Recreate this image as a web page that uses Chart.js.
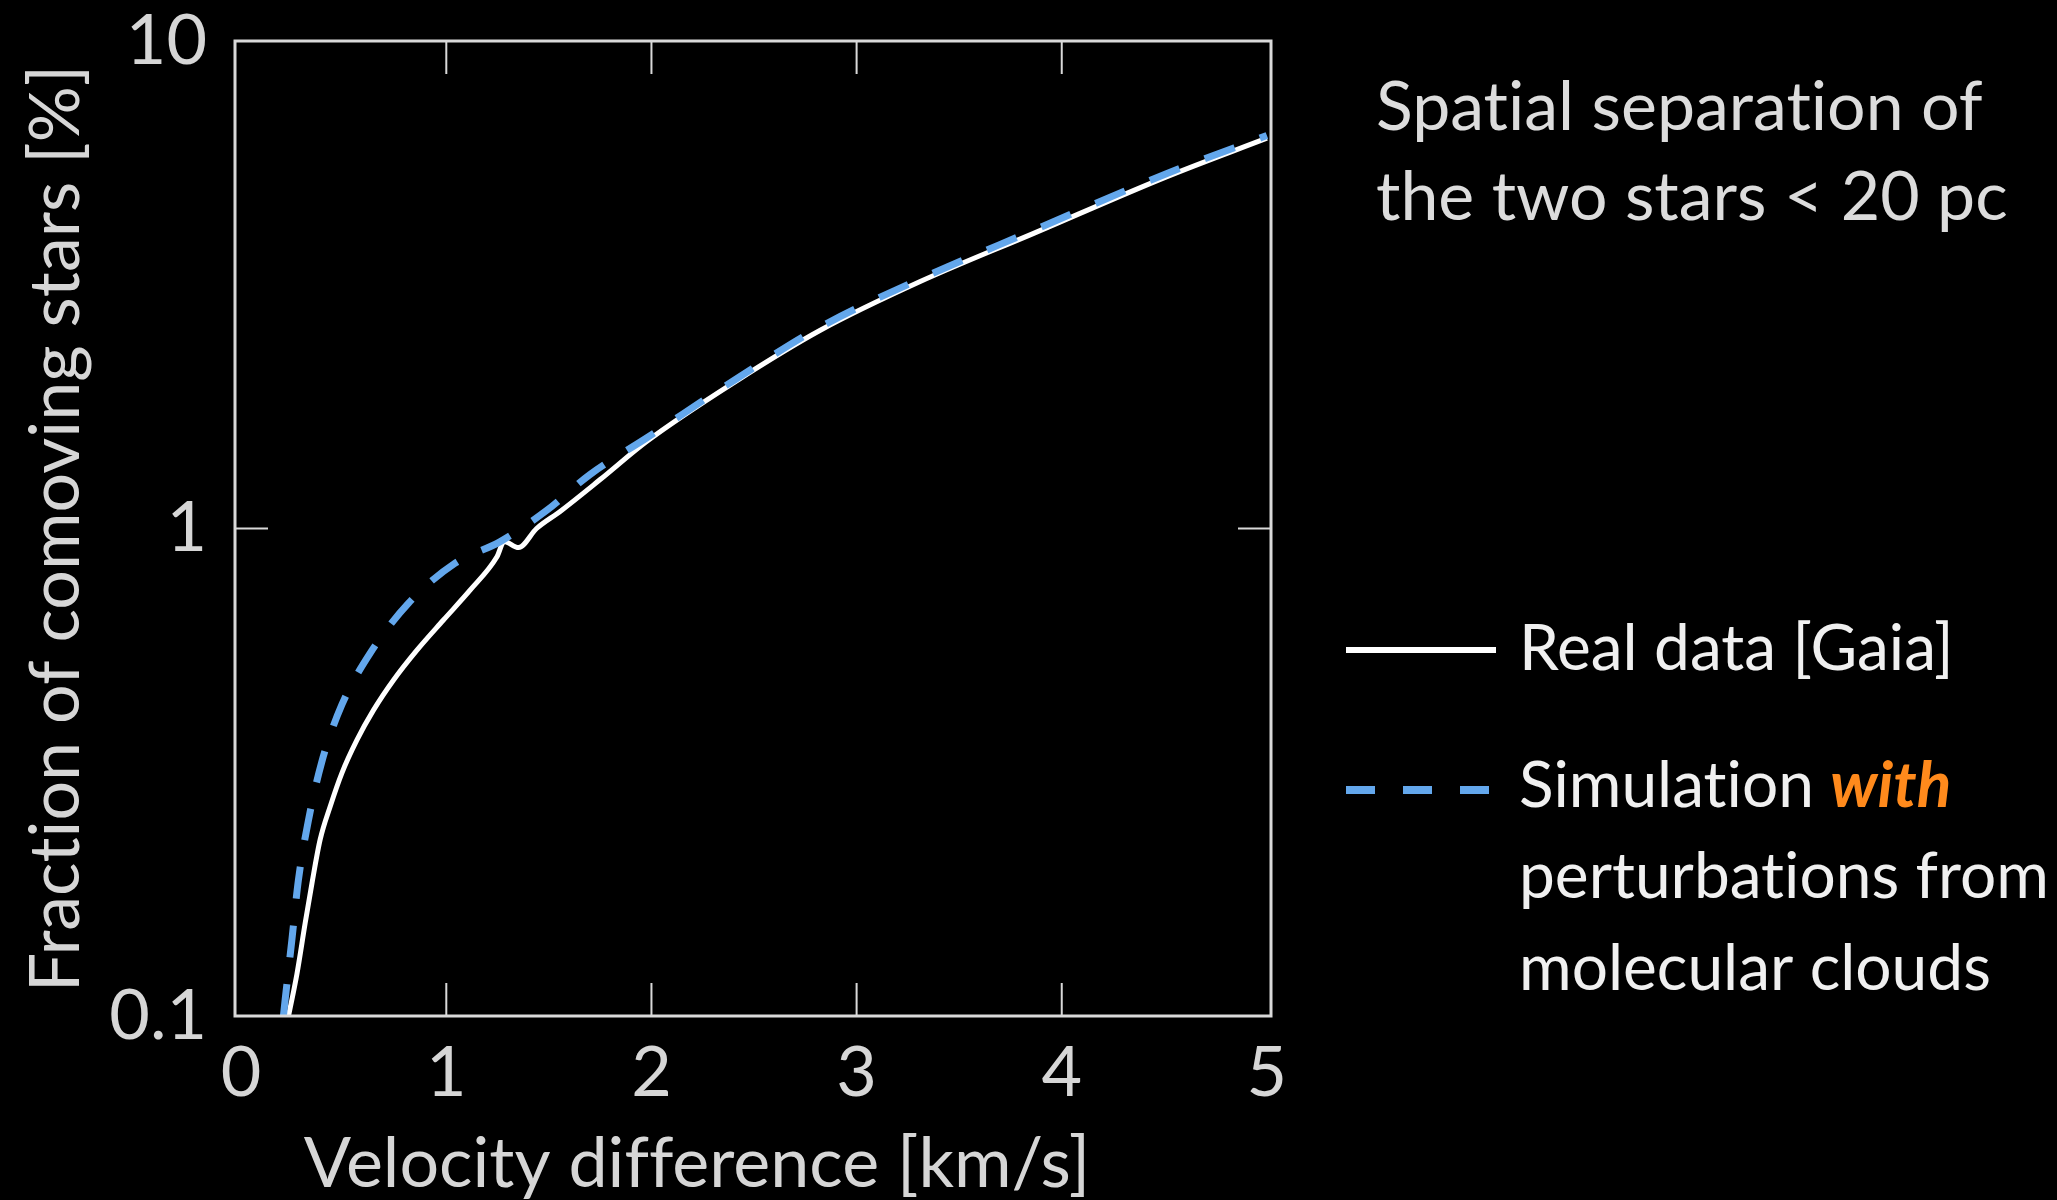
<!DOCTYPE html>
<html>
<head>
<meta charset="utf-8">
<script src="https://cdn.jsdelivr.net/npm/chart.js@4.4.0/dist/chart.umd.min.js"></script>
<style>
  html, body { margin: 0; padding: 0; background: #000; }
  #wrap { width: 2057px; height: 1200px; position: relative; }
</style>
</head>
<body>
<div id="wrap"><canvas id="line-chart"></canvas></div>
<script>
// values
var velocityReal = [0.231, 0.272, 0.312, 0.345, 0.385, 0.434, 0.491, 0.564, 0.645, 0.743, 0.857, 0.986, 1.117, 1.247, 1.282, 1.352, 1.44, 1.555, 1.75, 1.978, 2.40, 2.823, 3.31, 3.863, 4.513, 5.0];
var fractionReal = [0.10, 0.122, 0.155, 0.187, 0.230, 0.269, 0.315, 0.368, 0.424, 0.489, 0.563, 0.649, 0.748, 0.875, 0.94, 0.914, 1.0, 1.084, 1.26, 1.51, 1.99, 2.55, 3.21, 4.03, 5.27, 6.32];

var velocitySim = [0.206, 0.2145, 0.247, 0.279, 0.328, 0.393, 0.491, 0.629, 0.816, 1.043, 1.263, 1.49, 1.70, 1.978, 2.40, 2.823, 3.31, 3.863, 4.513, 5.0];
var fractionSim = [0.10, 0.108, 0.143, 0.190, 0.252, 0.332, 0.435, 0.555, 0.703, 0.849, 0.94, 1.09, 1.29, 1.535, 2.01, 2.59, 3.25, 4.09, 5.35, 6.4];

var xTickValues = [0, 1, 2, 3, 4, 5];
var yTickValues = [0.1, 1, 10];
var xTitle = "Velocity difference [km/s]";
var yTitle = "Fraction of comoving stars [%]";
var noteLines = ["Spatial separation of", "the two stars < 20 pc"];
var realLabel = "Real data [Gaia]";
var simLabelLines = [["Simulation ", "with"], ["perturbations from"], ["molecular clouds"]];

var textGrey = "#d6d6d6";
var simBlue = "#63a7ec";

function toPoints(xs, ys) {
    return xs.map(function (v, i) { return { x: v, y: ys[i] }; });
}

// no "ti" ligatures, the original text has none
var plainText = {
    id: "plainText",
    beforeDraw: function (chart) {
        chart.ctx.textRendering = "optimizeSpeed";
    }
};

// frame around the plot with inward ticks, like the original axes
var frameAndTicks = {
    id: "frameAndTicks",
    afterDatasetsDraw: function (chart) {
        var ctx = chart.ctx, a = chart.chartArea, x = chart.scales.x, y = chart.scales.y;
        ctx.save();
        ctx.strokeStyle = "#d9d9d9";
        ctx.lineWidth = 3;
        ctx.strokeRect(a.left, a.top, a.right - a.left, a.bottom - a.top);
        ctx.lineWidth = 2;
        ctx.beginPath();
        x.ticks.forEach(function (t, i) {
            if (i === 0 || i === x.ticks.length - 1) return;
            var px = x.getPixelForValue(t.value);
            ctx.moveTo(px, a.bottom); ctx.lineTo(px, a.bottom - 33);
            ctx.moveTo(px, a.top); ctx.lineTo(px, a.top + 33);
        });
        y.ticks.forEach(function (t, i) {
            if (i === 0 || i === y.ticks.length - 1) return;
            var py = y.getPixelForValue(t.value);
            ctx.moveTo(a.left, py); ctx.lineTo(a.left + 33, py);
            ctx.moveTo(a.right, py); ctx.lineTo(a.right - 33, py);
        });
        ctx.stroke();
        ctx.restore();
    }
};

// x title, the note and the legend on the right
var sideTexts = {
    id: "sideTexts",
    afterDraw: function (chart) {
        var ctx = chart.ctx;
        ctx.save();
        ctx.textBaseline = "alphabetic";

        ctx.fillStyle = textGrey;
        ctx.font = "70px Lato";
        ctx.textAlign = "center";
        ctx.fillText(xTitle, 697, 1187);

        ctx.textAlign = "left";
        ctx.font = "68px Lato";
        ctx.fillStyle = "#dcdcdc";
        ctx.fillText(noteLines[0], 1376, 130);
        ctx.fillText(noteLines[1], 1376, 220);

        // legend swatches
        ctx.strokeStyle = "#ffffff";
        ctx.lineWidth = 6;
        ctx.beginPath(); ctx.moveTo(1346, 650); ctx.lineTo(1496, 650); ctx.stroke();
        ctx.strokeStyle = simBlue;
        ctx.lineWidth = 8;
        ctx.setLineDash([29, 28]);
        ctx.beginPath(); ctx.moveTo(1346, 790); ctx.lineTo(1491, 790); ctx.stroke();
        ctx.setLineDash([]);

        ctx.font = "64px Lato";
        ctx.fillStyle = "#f0f0f0";
        ctx.fillText(realLabel, 1519, 670);
        var baselines = [807, 898, 990];
        simLabelLines.forEach(function (parts, i) {
            var xPos = 1519;
            ctx.font = "64px Lato";
            ctx.fillStyle = "#f0f0f0";
            ctx.fillText(parts[0], xPos, baselines[i]);
            if (parts[1]) {
                xPos += ctx.measureText(parts[0]).width;
                ctx.font = "italic bold 64px Lato";
                ctx.fillStyle = "#ff8a1c";
                ctx.fillText(parts[1], xPos, baselines[i]);
            }
        });
        ctx.restore();
    }
};

var lineChart = new Chart(document.getElementById("line-chart").getContext("2d"), {
    type: "line",
    data: {
        datasets: [
            {
                label: "Simulation with perturbations from molecular clouds",
                data: toPoints(velocitySim, fractionSim),
                borderColor: simBlue,
                borderWidth: 7,
                borderDash: [32, 27],
                pointRadius: 0,
                cubicInterpolationMode: "monotone",
                fill: false,
                order: 1,
            },
            {
                label: realLabel,
                data: toPoints(velocityReal, fractionReal),
                borderColor: "#ffffff",
                borderWidth: 5,
                pointRadius: 0,
                cubicInterpolationMode: "monotone",
                fill: false,
                order: 2,
            },
        ],
    },
    options: {
        responsive: true,
        maintainAspectRatio: false,
        animation: false,
        layout: { padding: { top: 41, right: 786, left: 0, bottom: 0 } },
        plugins: { legend: { display: false }, tooltip: { enabled: false } },
        scales: {
            x: {
                type: "linear",
                min: -0.03,
                max: 5.02,
                grid: { display: false, drawTicks: false },
                border: { display: false },
                afterBuildTicks: function (s) {
                    s.ticks = xTickValues.map(function (v) { return { value: v }; });
                },
                ticks: {
                    color: textGrey,
                    padding: 22,
                    maxRotation: 0,
                    font: { family: "Lato", size: 70, lineHeight: 1 },
                    callback: function (v) { return String(v); },
                },
                afterFit: function (s) { s.height = 184; },
            },
            y: {
                type: "logarithmic",
                min: 0.1,
                max: 10,
                grid: { display: false, drawTicks: false },
                border: { display: false },
                afterBuildTicks: function (s) {
                    s.ticks = yTickValues.map(function (v) { return { value: v }; });
                },
                ticks: {
                    color: textGrey,
                    padding: 28,
                    font: { family: "Lato", size: 70, lineHeight: 1 },
                    callback: function (v) { return String(v); },
                },
                title: {
                    display: true,
                    text: yTitle,
                    color: textGrey,
                    padding: { top: 21, bottom: 0 },
                    font: { family: "Lato", size: 70, lineHeight: 1 },
                },
                afterFit: function (s) {
                    s.width = 235;
                    s.paddingTop = 0;
                    s.paddingBottom = 0;
                },
            },
        },
    },
    plugins: [plainText, frameAndTicks, sideTexts],
});
</script>
</body>
</html>
